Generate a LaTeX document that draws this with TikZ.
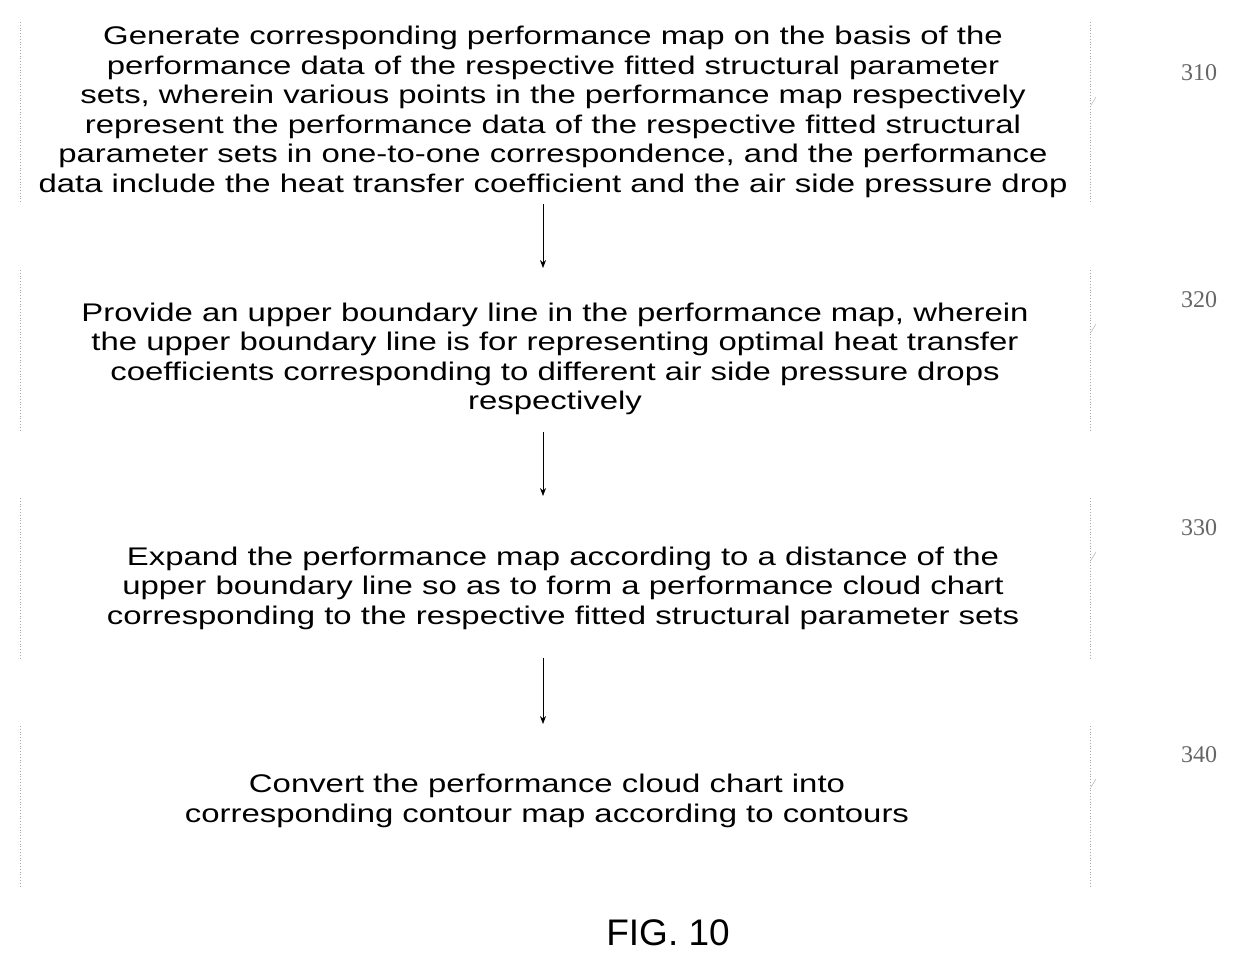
\documentclass[tikz,border=0pt]{standalone}
\usepackage{fontspec}
\usetikzlibrary{arrows.meta}
\setmainfont{Liberation Sans}
\newfontfamily\serifl{Liberation Serif}
\begin{document}
\begin{tikzpicture}[x=1pt,y=-1pt,
  txt/.style={align=center,font=\fontsize{25.5}{29.5}\selectfont,inner sep=0pt,xscale=1.29},
  side/.style={draw=gray!70,dotted,line width=0.8pt},
  lab/.style={font=\serifl\fontsize{24}{26}\selectfont,text=gray!80!black,inner sep=0pt},
  arr/.style={draw,line width=0.7pt,-{Stealth[length=8pt,width=6pt]}}]
\useasboundingbox (0,0) rectangle (1238,968);
\foreach \t/\b/\ly/\n in {22/202/73/310,270/430/300/320,498/658/528/330,726/886/755/340}{
  \draw[side] (20,\t) -- (20,\b);
  \draw[side] (1090,\t) -- (1090,\b);
  \node[lab] at (1199,\ly) {\n};
  \draw[gray!60,line width=0.5pt] (1091,\ly+32) -- (1096,\ly+24);
}
\node[txt] (s310) at (553,112) {Generate corresponding performance map on the basis of the\\performance data of the respective fitted structural parameter\\sets, wherein various points in the performance map respectively\\represent the performance data of the respective fitted structural\\parameter sets in one-to-one correspondence, and the performance\\data include the heat transfer coefficient and the air side pressure drop};
\node[txt] (s320) at (555,359) {Provide an upper boundary line in the performance map, wherein\\the upper boundary line is for representing optimal heat transfer\\coefficients corresponding to different air side pressure drops\\respectively};
\node[txt] (s330) at (563,588) {Expand the performance map according to a distance of the\\upper boundary line so as to form a performance cloud chart\\corresponding to the respective fitted structural parameter sets};
\node[txt] (s340) at (547,801) {Convert the performance cloud chart into\\corresponding contour map according to contours};
\coordinate (a1) at (543,204); \coordinate (b1) at (543,268);
\coordinate (a2) at (543,432); \coordinate (b2) at (543,496);
\coordinate (a3) at (543,658); \coordinate (b3) at (543,724);
\draw[arr] (a1) -- (b1);
\draw[arr] (a2) -- (b2);
\draw[arr] (a3) -- (b3);
\node[font=\fontsize{37}{40}\selectfont,inner sep=0pt] (fig) at (668,933) {FIG. 10};
\end{tikzpicture}
\end{document}
